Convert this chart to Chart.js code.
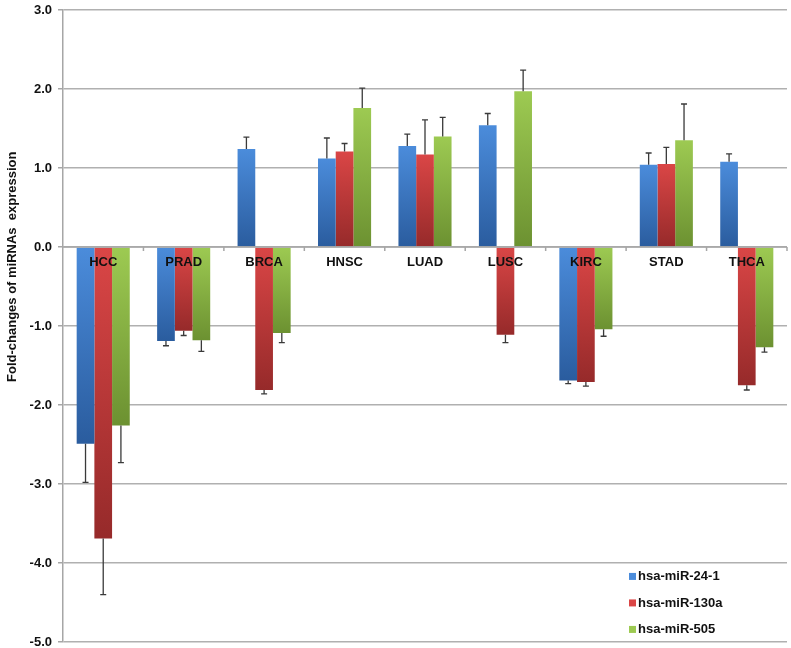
<!DOCTYPE html>
<html>
<head>
<meta charset="utf-8">
<script src="https://cdn.jsdelivr.net/npm/chart.js@4/dist/chart.umd.min.js"></script>
<style>
  html, body { margin: 0; padding: 0; background: #fff; }
  #wrap { width: 791px; height: 648px; position: relative; }
</style>
</head>
<body>
<div id="wrap"><canvas id="myChart"></canvas></div>
<script>
// data
const categories = ["HCC", "PRAD", "BRCA", "HNSC", "LUAD", "LUSC", "KIRC", "STAD", "THCA"];
const seriesNames = ["hsa-miR-24-1", "hsa-miR-130a", "hsa-miR-505"];
const mir24 = [-2.49, -1.19, 1.24, 1.12, 1.28, 1.54, -1.69, 1.04, 1.08];
const mir130a = [-3.69, -1.06, -1.81, 1.21, 1.17, -1.11, -1.71, 1.05, -1.75];
const mir505 = [-2.26, -1.18, -1.09, 1.76, 1.40, 1.97, -1.04, 1.35, -1.27];
const err24 = [0.49, 0.06, 0.15, 0.26, 0.15, 0.15, 0.04, 0.15, 0.10];
const err130a = [0.71, 0.06, 0.05, 0.10, 0.44, 0.10, 0.05, 0.21, 0.06];
const err505 = [0.47, 0.14, 0.12, 0.25, 0.24, 0.27, 0.09, 0.46, 0.06];
const yTicks = [3, 2, 1, 0, -1, -2, -3, -4, -5];

const FONT = "'Liberation Sans', Arial, sans-serif";

// top colour, bottom colour
const shades = [
    ["#4b8cdb", "#2a5c9e"],
    ["#da4646", "#962a2a"],
    ["#9dca52", "#6c9131"]
];

function barFill(idx) {
    return function (ctx) {
        let chart = ctx.chart;
        if (!chart.chartArea || ctx.type !== "data") return shades[idx][0];
        let y = chart.scales.y;
        let v = ctx.parsed.y;
        let p1 = y.getPixelForValue(v);
        let p0 = y.getPixelForValue(0);
        let top = Math.min(p0, p1), bot = Math.max(p0, p1);
        if (bot - top < 1) bot = top + 1;
        let g = chart.ctx.createLinearGradient(0, top, 0, bot);
        g.addColorStop(0, shades[idx][0]);
        g.addColorStop(1, shades[idx][1]);
        return g;
    };
}

const errors = [err24, err130a, err505];

// error bars, zero axis ticks, category names, legend, y title
const extras = {
    id: "extras",
    afterDatasetsDraw(chart) {
        const c = chart.ctx;
        const xs = chart.scales.x;
        const ys = chart.scales.y;
        const area = chart.chartArea;
        const zero = ys.getPixelForValue(0);

        // zero line + small tick marks between categories
        c.save();
        c.strokeStyle = "#a6a6a6";
        c.lineWidth = 1.5;
        c.beginPath();
        c.moveTo(area.left, zero);
        c.lineTo(area.right, zero);
        let step = (area.right - area.left) / categories.length;
        for (let i = 1; i <= categories.length; i++) {
            let x = area.left + step * i;
            c.moveTo(x, zero);
            c.lineTo(x, zero + 4);
        }
        c.stroke();

        // error bars (one sided, away from zero)
        c.strokeStyle = "#3a3a3a";
        c.lineWidth = 1.3;
        chart.data.datasets.forEach((ds, di) => {
            let meta = chart.getDatasetMeta(di);
            meta.data.forEach((bar, i) => {
                let v = ds.data[i];
                let e = errors[di][i];
                let end = v >= 0 ? v + e : v - e;
                let yEnd = ys.getPixelForValue(end);
                let yStart = ys.getPixelForValue(v);
                c.beginPath();
                c.moveTo(bar.x, yStart);
                c.lineTo(bar.x, yEnd);
                c.moveTo(bar.x - 3, yEnd);
                c.lineTo(bar.x + 3, yEnd);
                c.stroke();
            });
        });

        // category names sitting under the zero line
        c.fillStyle = "#111";
        c.font = "bold 13px " + FONT;
        c.textAlign = "center";
        c.textBaseline = "middle";
        categories.forEach((name, i) => {
            c.fillText(name, xs.getPixelForValue(i), zero + 15);
        });

        // legend in lower right
        c.textAlign = "left";
        let ly = ys.getPixelForValue(-4.17);
        let lx = area.right - 158;
        chart.data.datasets.forEach((ds, di) => {
            let yy = ly + di * 26.5;
            c.fillStyle = shades[di][0];
            c.fillRect(lx, yy - 3.5, 7, 7);
            c.fillStyle = "#111";
            c.fillText(ds.label, lx + 9, yy);
        });

        // y axis title
        c.translate(12, ys.getPixelForValue(-0.25));
        c.rotate(-Math.PI / 2);
        c.textAlign = "center";
        c.fillText("Fold-changes of miRNAs  expression", 0, 0);
        c.restore();
    }
};

let chart = new Chart("myChart", {
    type: "bar",
    data: {
        labels: categories,
        datasets: [{
            label: seriesNames[0],
            data: mir24,
            backgroundColor: barFill(0)
        }, {
            label: seriesNames[1],
            data: mir130a,
            backgroundColor: barFill(1)
        }, {
            label: seriesNames[2],
            data: mir505,
            backgroundColor: barFill(2)
        }]
    },
    options: {
        responsive: true,
        maintainAspectRatio: false,
        animation: false,
        datasets: {
            bar: {
                categoryPercentage: 0.66,
                barPercentage: 1.0,
                borderWidth: 0
            }
        },
        layout: { padding: { top: 10, right: 4, bottom: 6, left: 0 } },
        plugins: {
            legend: { display: false },
            tooltip: { enabled: false }
        },
        scales: {
            x: {
                display: false,
                offset: true
            },
            y: {
                min: -5,
                max: 3,
                afterFit(scale) {
                    scale.width = 63;
                    scale.paddingTop = 0;
                    scale.paddingBottom = 0;
                },
                afterBuildTicks(scale) {
                    scale.ticks = yTicks.map(v => ({ value: v }));
                },
                border: { color: "#a6a6a6", width: 1.5 },
                grid: {
                    color: "#b0b0b0",
                    lineWidth: 1.5,
                    tickLength: 5,
                    tickColor: "#a6a6a6"
                },
                ticks: {
                    padding: 6,
                    color: "#111",
                    font: { family: FONT, size: 13, weight: "bold" },
                    callback: v => v.toFixed(1)
                }
            }
        }
    },
    plugins: [extras]
});
</script>
</body>
</html>
